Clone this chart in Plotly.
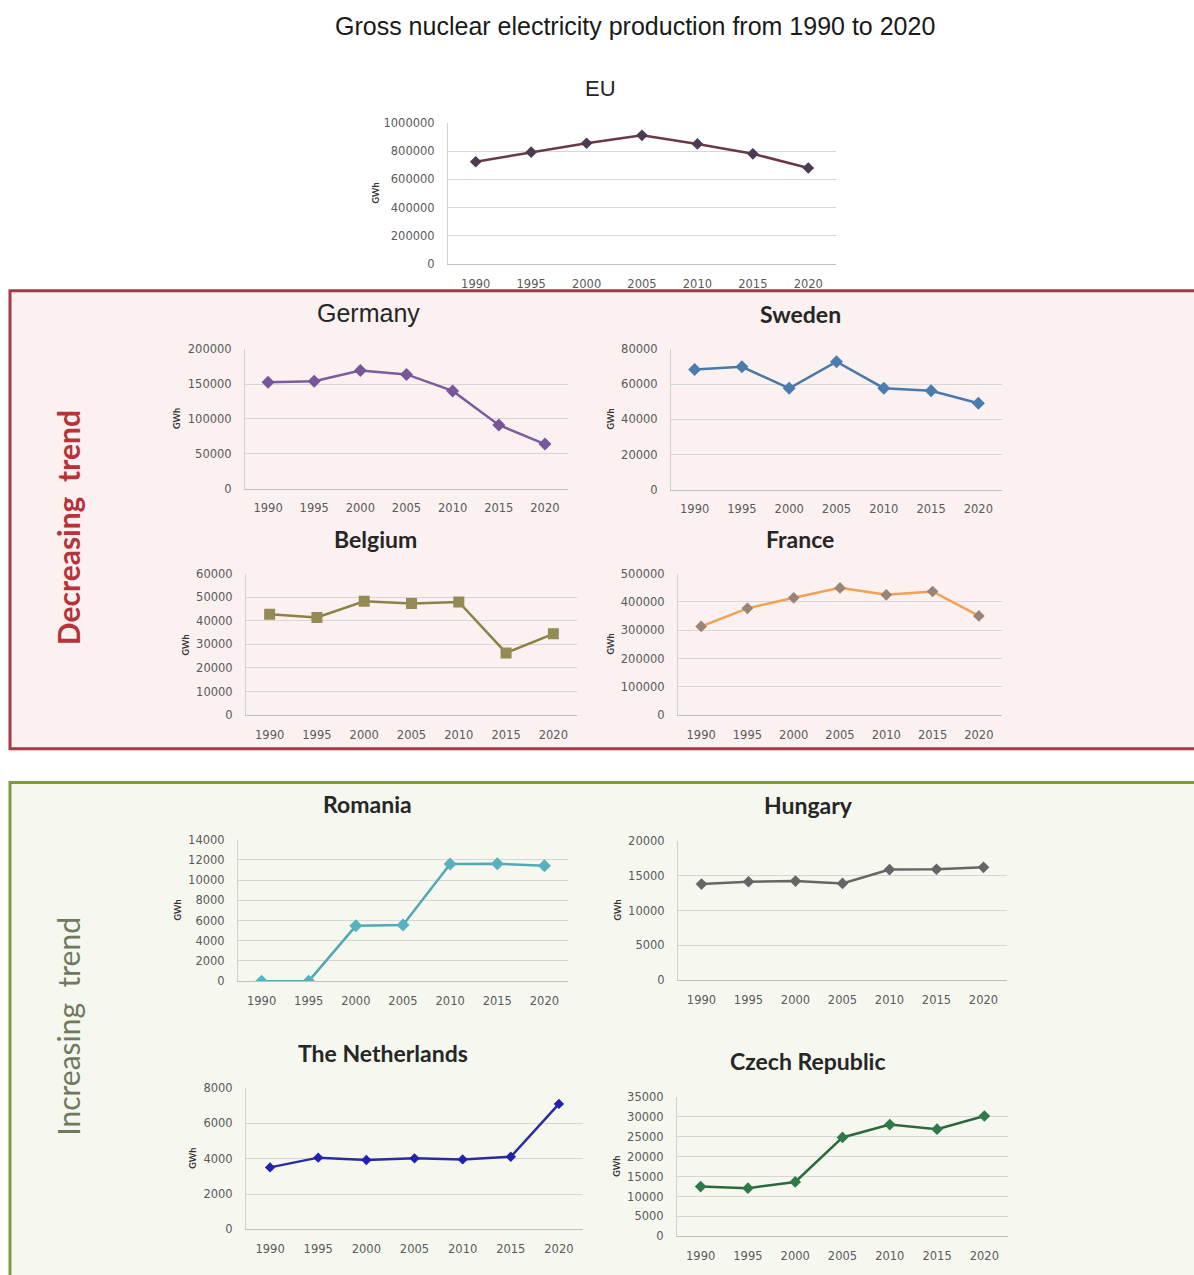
import plotly.graph_objects as go

W, H = 1194, 1275

YEARS = ["1990", "1995", "2000", "2005", "2010", "2015", "2020"]

# Gross nuclear electricity production, GWh
EU = [724000, 792000, 855000, 911000, 850000, 780000, 680000]
GERMANY = [152500, 153900, 169400, 163800, 140200, 91300, 64000]
SWEDEN = [68500, 70000, 57700, 72900, 57800, 56300, 49200]
BELGIUM = [42800, 41400, 48300, 47400, 48000, 26400, 34500]
FRANCE = [313500, 377600, 414900, 449900, 425400, 437100, 350800]
ROMANIA = [0, 0, 5480, 5550, 11590, 11620, 11420]
HUNGARY = [13790, 14120, 14210, 13880, 15860, 15910, 16190]
NETHERLANDS = [3510, 4060, 3930, 4020, 3960, 4110, 7100]
CZECH = [12490, 12080, 13650, 24820, 28050, 26890, 30200]


def px_x(x):
    return x / W


def px_y(y):
    return 1 - y / H


BOLD = "Lato, 'Open Sans', sans-serif"
PLAIN = "'Liberation Sans', Arial, sans-serif"

# name, values, y max, y step, plot box (l, t, r, b), line colour, marker colour,
# marker symbol, marker size, title centre (x, y), title font, bold?, title size, GWh label x
panels = [
    ("EU", EU, 1000000, 200000, (448, 117, 836, 260), "#6a3848", "#4a3a52", "diamond", 9,
     (600, 82), PLAIN, False, 22, 375),
    ("Germany", GERMANY, 200000, 50000, (245, 346, 568, 487), "#7b5c9e", "#76589a", "diamond", 10,
     (368, 309), PLAIN, False, 25, 177),
    ("Sweden", SWEDEN, 80000, 20000, (671, 346, 1002, 488), "#4a78a8", "#4a7cae", "diamond", 10,
     (800, 310), BOLD, True, 23, 610),
    ("Belgium", BELGIUM, 60000, 10000, (246, 573, 577, 716), "#8c8245", "#948a54", "square", 11,
     (375, 538), BOLD, True, 23, 185),
    ("France", FRANCE, 500000, 100000, (678, 573, 1002, 716), "#f2a055", "#9a8475", "diamond", 9,
     (800, 538), BOLD, True, 23, 610),
    ("Romania", ROMANIA, 14000, 2000, (238, 842, 568, 985), "#52a8b4", "#56b2bf", "diamond", 10,
     (367, 806), BOLD, True, 23, 177),
    ("Hungary", HUNGARY, 20000, 5000, (678, 843, 1007, 984), "#666666", "#666666", "diamond", 9,
     (808, 807), BOLD, True, 23, 617),
    ("The Netherlands", NETHERLANDS, 8000, 2000, (246, 1093, 583, 1236), "#2b2ba0", "#2222b0", "diamond", 8,
     (383, 1058), BOLD, True, 23, 193),
    ("Czech Republic", CZECH, 35000, 5000, (677, 1102, 1008, 1243), "#2a6a3a", "#2f7a48", "diamond", 9,
     (808, 1066), BOLD, True, 23, 617),
]

fig = go.Figure()
layout = {}
annotations = []

TICKFONT = dict(family="'DejaVu Sans', sans-serif", size=11.5, color="#5a5a5a")

for i, (name, vals, ymax, step, box, lcol, mcol, sym, msize, tpos, tfont, bold, tsize, gx) in enumerate(panels):
    n = "" if i == 0 else str(i + 1)
    l, t, r, b = box
    fig.add_trace(go.Scatter(
        x=YEARS, y=vals, mode="lines+markers",
        line=dict(color=lcol, width=2.5),
        marker=dict(symbol=sym, size=msize, color=mcol),
        xaxis="x" + n, yaxis="y" + n, showlegend=False, name=name,
        hovertemplate="%{x}: %{y:,} GWh<extra>" + name + "</extra>",
    ))
    layout["xaxis" + n] = dict(
        domain=[px_x(l), px_x(r)], anchor="y" + n, type="category",
        range=[-0.5, 6.5], showgrid=False, zeroline=False,
        showline=True, linecolor="#bfbfbf", linewidth=1,
        ticks="", ticklabelstandoff=9, tickfont=TICKFONT,
        fixedrange=True,
    )
    layout["yaxis" + n] = dict(
        domain=[px_y(b), px_y(t)], anchor="x" + n,
        range=[0, ymax], dtick=step, tick0=0,
        showgrid=True, gridcolor="#d6d6d6", gridwidth=1, zeroline=False,
        showline=True, linecolor="#d0d0d0", linewidth=1,
        ticks="", ticklabelstandoff=10, tickformat="d", tickfont=TICKFONT,
        fixedrange=True,
    )
    tx, ty = tpos
    annotations.append(dict(
        text="<b>" + name + "</b>" if bold else name,
        x=px_x(tx), y=px_y(ty), xref="paper", yref="paper",
        xanchor="center", yanchor="middle", showarrow=False,
        font=dict(family=tfont, size=tsize, color="#262626"),
    ))
    annotations.append(dict(
        text="<b>GWh</b>", x=px_x(gx), y=px_y((t + b) / 2), xref="paper", yref="paper",
        xanchor="center", yanchor="middle", showarrow=False, textangle=-90,
        font=dict(family=BOLD, size=9, color="#333333"),
    ))

# Main title
annotations.append(dict(
    text="Gross nuclear electricity production from 1990 to 2020",
    x=px_x(635), y=px_y(19), xref="paper", yref="paper",
    xanchor="center", yanchor="middle", showarrow=False,
    font=dict(family=PLAIN, size=25, color="#1a1a1a"),
))

# Group labels
annotations.append(dict(
    text="<b>Decreasing  trend</b>", x=px_x(68), y=px_y(527), xref="paper", yref="paper",
    xanchor="center", yanchor="middle", showarrow=False, textangle=-90,
    font=dict(family=BOLD, size=30, color="#b8323a"),
))
annotations.append(dict(
    text="Increasing  trend", x=px_x(68), y=px_y(1031), xref="paper", yref="paper",
    xanchor="center", yanchor="middle", showarrow=False, textangle=-90,
    font=dict(family=BOLD, size=30, color="#6f7a5c"),
))

shapes = [
    dict(type="rect", xref="paper", yref="paper", layer="below",
         x0=px_x(10), x1=px_x(1210), y0=px_y(750), y1=px_y(287),
         fillcolor="#fbf1f1", line=dict(color="#a33a44", width=3)),
    dict(type="rect", xref="paper", yref="paper", layer="below",
         x0=px_x(10), x1=px_x(1210), y0=px_y(1290), y1=px_y(784),
         fillcolor="#f6f8f0", line=dict(color="#7d9a45", width=3)),
]

fig.update_layout(
    width=W, height=H, margin=dict(l=0, r=0, t=0, b=0),
    paper_bgcolor="#ffffff", plot_bgcolor="rgba(0,0,0,0)",
    annotations=annotations, shapes=shapes, showlegend=False,
    **layout,
)

fig.write_html("out.html")
